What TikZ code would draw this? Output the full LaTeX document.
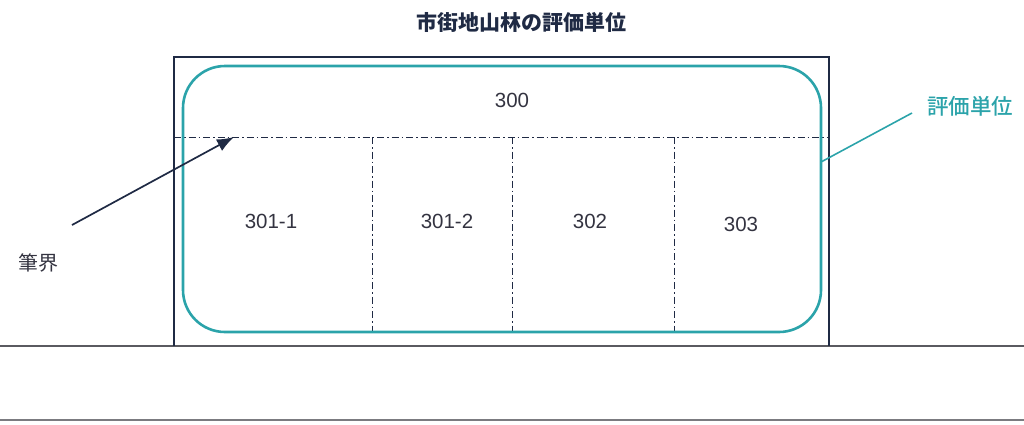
\documentclass[tikz,border=0pt]{standalone}
\usepackage{fontspec}
\setmainfont{Liberation Sans}
\newfontfamily\jp{Noto Sans CJK JP}
\newfontfamily\jpm{Noto Sans CJK JP Medium}
\usetikzlibrary{arrows.meta}
\definecolor{navy}{HTML}{1F2A44}
\definecolor{teal2}{HTML}{2BA3AA}
\definecolor{txt}{HTML}{333340}
\definecolor{gline}{HTML}{5A5A60}
\tikzset{
  lbl/.style={font=\fontsize{20.5}{24}\selectfont, text=txt, inner sep=0pt},
  jlbl/.style={font=\jp\fontsize{20}{24}\selectfont, text=txt, inner sep=0pt},
  ddot/.style={draw=navy, line width=0.9pt, dash pattern=on 7pt off 3pt on 1.5pt off 3pt},
  frame/.style={draw=navy, line width=1.4pt},
  unit/.style={draw=teal2, line width=2.6pt, rounded corners=42pt},
}
\begin{document}
\begin{tikzpicture}[x=1pt,y=-1pt]
\useasboundingbox (0,0) rectangle (1024,424);
% title
\node[font=\jp\bfseries\fontsize{21}{24}\selectfont, text=navy, inner sep=0pt] (title) at (521,22) {市街地山林の評価単位};
% ground lines
\draw[gline, line width=1.6pt] (0,346) -- (1024,346);
\draw[gline!80, line width=1.4pt] (0,420) -- (1024,420);
% outer frame
\draw[frame] (174,346) -- (174,57) -- (829,57) -- (829,346);
% dash-dot parcel boundaries
\draw[ddot] (174,137) -- (829,137);
\draw[ddot] (372,137) -- (372,333);
\draw[ddot] (512,137) -- (512,333);
\draw[ddot] (674,137) -- (674,333);
% evaluation unit
\draw[unit] (183,66) rectangle (821,332);
% labels
\node[lbl] (p300) at (512,100) {300};
\node[lbl] (p3011) at (271,221) {301-1};
\node[lbl] (p3012) at (447,221) {301-2};
\node[lbl] (p302) at (590,221) {302};
\node[lbl] (p303) at (741,224) {303};
\node[jlbl] (hikkai) at (38,263) {筆界};
\node[jlbl, font=\jpm\fontsize{21.5}{24}\selectfont, text=teal2] (hyoka) at (970,106) {評価単位};
% arrow to boundary
\coordinate (atail) at (72,225);
\coordinate (ahead) at (234,137);
\draw[navy, line width=1.7pt, -{Latex[length=17pt,width=13pt]}] (atail) -- (ahead);
% teal leader
\coordinate (lstart) at (821,162);
\coordinate (lend) at (912,113);
\draw[teal2, line width=1.6pt] (lstart) -- (lend);
\end{tikzpicture}
\end{document}
